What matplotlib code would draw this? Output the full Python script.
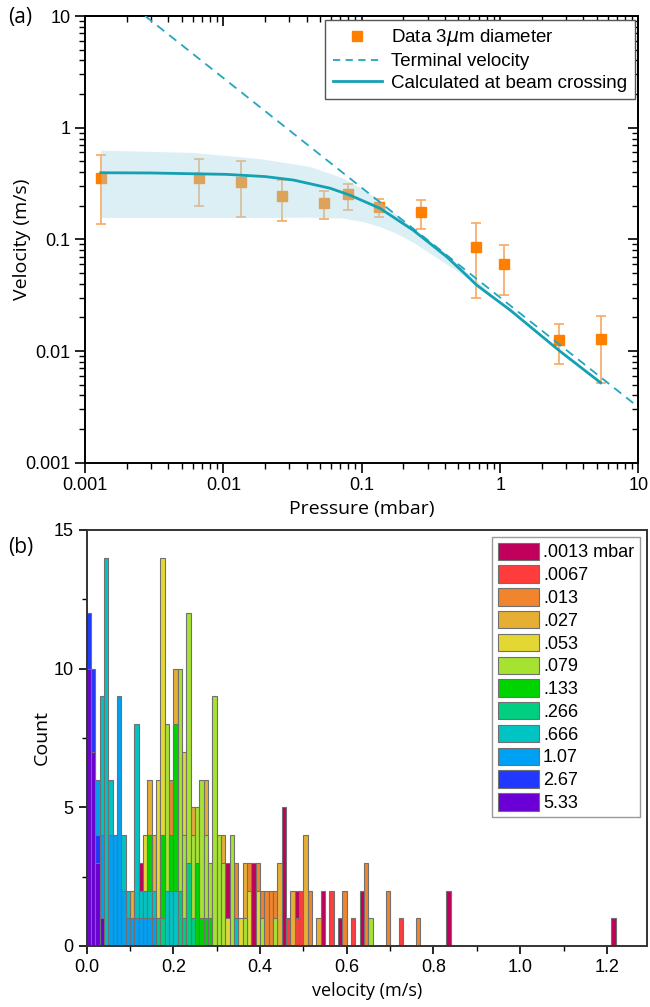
import numpy as np
import matplotlib
matplotlib.use('Agg')
import matplotlib.pyplot as plt
import matplotlib.ticker as ticker
from matplotlib.patches import Patch
from matplotlib.lines import Line2D

plt.rcParams['font.family'] = ['Liberation Sans', 'DejaVu Sans']

# ---- panel (a) data: measured velocities vs pressure
pressure = [0.0013, 0.0067, 0.0133, 0.0267, 0.053, 0.079, 0.133, 0.266, 0.666, 1.07, 2.67, 5.33]
vel = [0.352, 0.356, 0.329, 0.246, 0.212, 0.254, 0.194, 0.176, 0.0855, 0.0607, 0.01265, 0.0129]
vel_hi = [0.566, 0.525, 0.503, 0.338, 0.271, 0.316, 0.231, 0.227, 0.139, 0.0898, 0.0176, 0.0207]
vel_lo = [0.136, 0.198, 0.158, 0.146, 0.151, 0.183, 0.158, 0.124, 0.030, 0.032, 0.00767, 0.0052]

# terminal velocity (straight line on log-log), end points
p_term = [0.00272, 10.0]
v_term = [10.0, 0.00314]

# calculated velocity at beam crossing
p_calc = [0.0013, 0.003, 0.0105, 0.02, 0.032, 0.059, 0.082, 0.135, 0.235, 0.311, 0.41, 0.54, 0.676, 1.18, 2.67, 5.33]
v_calc = [0.395, 0.393, 0.382, 0.365, 0.34, 0.287, 0.249, 0.19, 0.121, 0.092, 0.070, 0.051, 0.039, 0.0233, 0.0101, 0.0052]

# uncertainty band
p_band = [0.0013, 0.006, 0.018, 0.042, 0.073, 0.103, 0.135, 0.179, 0.235, 0.311, 0.41, 0.54, 0.7, 0.85]
band_hi = [0.63, 0.60, 0.53, 0.45, 0.355, 0.28, 0.22, 0.165, 0.125, 0.097, 0.074, 0.054, 0.041, 0.033]
band_lo = [0.157, 0.157, 0.157, 0.158, 0.155, 0.144, 0.13, 0.113, 0.094, 0.075, 0.060, 0.048, 0.037, 0.030]

# ---- panel (b) data: histograms, bin width 0.01 m/s (bin left edges / counts)
bin_w = 0.01
labels = ['.0013 mbar', '.0067', '.013', '.027', '.053', '.079', '.133', '.266', '.666', '1.07', '2.67', '5.33']
colors = ['#C0005A', '#FF3C3C', '#F0852D', '#E6AE32', '#E3D833', '#A5E232',
          '#00D400', '#00CF82', '#00C4C4', '#00A0F5', '#2038FF', '#6A00D6']

h0013_v = [0.12, 0.32, 0.38, 0.45, 0.48, 0.54, 0.58, 0.63, 0.83, 1.21]
h0013_n = [3, 3, 3, 5, 2, 2, 1, 2, 2, 1]
h0067_v = [0.46, 0.48, 0.49, 0.56, 0.61, 0.72]
h0067_n = [1, 1, 2, 2, 1, 1]
h013_v = [0.19, 0.34, 0.37, 0.39, 0.40, 0.41, 0.42, 0.43, 0.47, 0.51, 0.59, 0.64, 0.69, 0.76]
h013_n = [6, 3, 3, 3, 2, 2, 2, 2, 1, 2, 2, 3, 2, 1]
h027_v = [0.10, 0.14, 0.15, 0.20, 0.24, 0.27, 0.31, 0.36, 0.44, 0.47, 0.50, 0.53]
h027_n = [2, 6, 4, 10, 5, 6, 4, 3, 3, 2, 4, 1]
h053_v = [0.13, 0.16, 0.17, 0.22, 0.31, 0.32, 0.35, 0.37, 0.39]
h053_n = [4, 6, 14, 7, 1, 1, 1, 2, 2]
h079_v = [0.18, 0.21, 0.22, 0.23, 0.24, 0.25, 0.26, 0.27, 0.28, 0.29, 0.30, 0.31, 0.33, 0.36, 0.40, 0.43, 0.65]
h079_n = [8, 10, 4, 12, 4, 5, 6, 4, 3, 9, 4, 3, 4, 1, 1, 1, 1]
h133_v = [0.14, 0.17, 0.19, 0.20, 0.25, 0.26, 0.27, 0.28]
h133_n = [4, 4, 4, 8, 3, 1, 1, 1]
h266_v = [0.16, 0.17, 0.21, 0.22, 0.23, 0.24]
h266_n = [1, 1, 2, 1, 3, 1]
h666_v = [0.03, 0.04, 0.05, 0.08, 0.09, 0.11, 0.12, 0.13, 0.14, 0.15, 0.18, 0.19, 0.20, 0.34]
h666_n = [9, 14, 6, 4, 2, 8, 2, 2, 2, 2, 2, 2, 2, 1]
h107_v = [0.02, 0.03, 0.05, 0.06, 0.07, 0.08, 0.09, 0.10, 0.11, 0.12, 0.13, 0.14, 0.15]
h107_n = [6, 4, 4, 4, 9, 2, 1, 1, 1, 1, 1, 1, 1]
h267_v = [0.00, 0.01, 0.02]
h267_n = [12, 10, 4]
h533_v = [0.00, 0.01, 0.02, 0.03]
h533_n = [10, 7, 3, 1]

hist_v = [h0013_v, h0067_v, h013_v, h027_v, h053_v, h079_v, h133_v, h266_v, h666_v, h107_v, h267_v, h533_v]
hist_n = [h0013_n, h0067_n, h013_n, h027_n, h053_n, h079_n, h133_n, h266_n, h666_n, h107_n, h267_n, h533_n]

fig = plt.figure(figsize=(6.5, 10.07), dpi=100)

# ================= (a)
ax = fig.add_axes([0.1308, 0.5405, 0.8515, 0.4436])
ax.set_xscale('log')
ax.set_yscale('log')

v = np.array(vel)
yerr = [v - np.array(vel_lo), np.array(vel_hi) - v]
ax.errorbar(pressure, vel, yerr=yerr, fmt='s', ms=7, color='#FF8000', mec='#FF8000',
            ecolor='#F8A860', elinewidth=1.2, capsize=3.5, capthick=1.2, zorder=2)
ax.fill_between(p_band, band_lo, band_hi, color='#A6D9E6', alpha=0.4, lw=0, zorder=3)
ax.plot(p_term, v_term, ls=(0, (5, 3.5)), color='#22A6BE', lw=1.3, zorder=4)
ax.plot(p_calc, v_calc, color='#15A0B4', lw=2, zorder=5)

ax.set_xlim(1e-3, 10)
ax.set_ylim(1e-3, 10)
fmt = ticker.FuncFormatter(lambda x, p: f'{x:g}')
ax.xaxis.set_major_formatter(fmt)
ax.yaxis.set_major_formatter(fmt)
ax.xaxis.set_minor_formatter(ticker.NullFormatter())
ax.yaxis.set_minor_formatter(ticker.NullFormatter())
ax.tick_params(which='major', direction='out', length=7, width=1.2, labelsize=13)
ax.tick_params(which='minor', direction='out', length=4, width=1.0)
for s in ax.spines.values():
    s.set_linewidth(1.4)

# mirrored ticks pointing inwards
sx = ax.secondary_xaxis('top')
sy = ax.secondary_yaxis('right')
for sa, axis in ((sx, sx.xaxis), (sy, sy.yaxis)):
    axis.set_major_formatter(ticker.NullFormatter())
    axis.set_minor_formatter(ticker.NullFormatter())
    sa.tick_params(which='major', direction='in', length=7, width=1.2)
    sa.tick_params(which='minor', direction='in', length=4, width=1.0)
    for s in sa.spines.values():
        s.set_linewidth(1.4)

ax.set_xlabel('Pressure (mbar)', family='Open Sans', fontsize=14, labelpad=4)
ax.set_ylabel('Velocity (m/s)', family='Open Sans', fontsize=14, labelpad=0)
ax.yaxis.set_label_coords(-0.097, 0.5)

hnd = [Line2D([], [], ls='none', marker='s', ms=7, color='#FF8000'),
       Line2D([], [], ls=(0, (4, 3)), color='#22A6BE', lw=1.3),
       Line2D([], [], color='#15A0B4', lw=2)]
leg = ax.legend(hnd, [r'Data 3$\mu$m diameter', 'Terminal velocity', 'Calculated at beam crossing'],
                loc='upper right', fontsize=13.5, handlelength=2.6, handletextpad=0.5,
                labelspacing=0.25, borderaxespad=0.2, fancybox=False, framealpha=1,
                edgecolor='#555555')
leg.get_frame().set_linewidth(1.0)

fig.text(0.012, 0.983, '(a)', family='Open Sans', fontsize=15, va='center')

# ================= (b)
bx = fig.add_axes([0.1334, 0.0606, 0.8616, 0.4131])
for xs, ns, c, lb in zip(hist_v, hist_n, colors, labels):
    bx.bar(xs, ns, width=bin_w, align='edge', color=c, edgecolor='#707070', linewidth=0.8, label=lb)

bx.set_xlim(0, 1.292)
bx.set_ylim(0, 15)
bx.xaxis.set_major_locator(ticker.MultipleLocator(0.2))
bx.xaxis.set_minor_locator(ticker.MultipleLocator(0.1))
bx.xaxis.set_major_formatter(ticker.FormatStrFormatter('%.1f'))
bx.yaxis.set_major_locator(ticker.MultipleLocator(5))
bx.yaxis.set_minor_locator(ticker.MultipleLocator(2.5))
bx.tick_params(which='major', direction='out', length=6, width=1.2, labelsize=13)
bx.tick_params(which='minor', direction='out', length=3.5, width=1.0)
for s in bx.spines.values():
    s.set_linewidth(1.4)
    s.set_color('#333333')

bx.set_xlabel('velocity (m/s)', family='Open Sans', fontsize=13, labelpad=4)
bx.set_ylabel('Count', family='Open Sans', fontsize=14, labelpad=0)
bx.yaxis.set_label_coords(-0.064, 0.5)

phnd = [Patch(facecolor=c, edgecolor='#707070', linewidth=0.8) for c in colors]
leg2 = bx.legend(phnd, labels, loc='upper right', fontsize=13, handlelength=2.3, handleheight=1.1,
                 handletextpad=0.2, labelspacing=0.22, borderpad=0.3, borderaxespad=0.4,
                 fancybox=False, framealpha=1, edgecolor='#999999')
leg2.get_frame().set_linewidth(1.0)

fig.text(0.012, 0.456, '(b)', family='Open Sans', fontsize=15, va='center')

fig.savefig('out.png', dpi=100)
